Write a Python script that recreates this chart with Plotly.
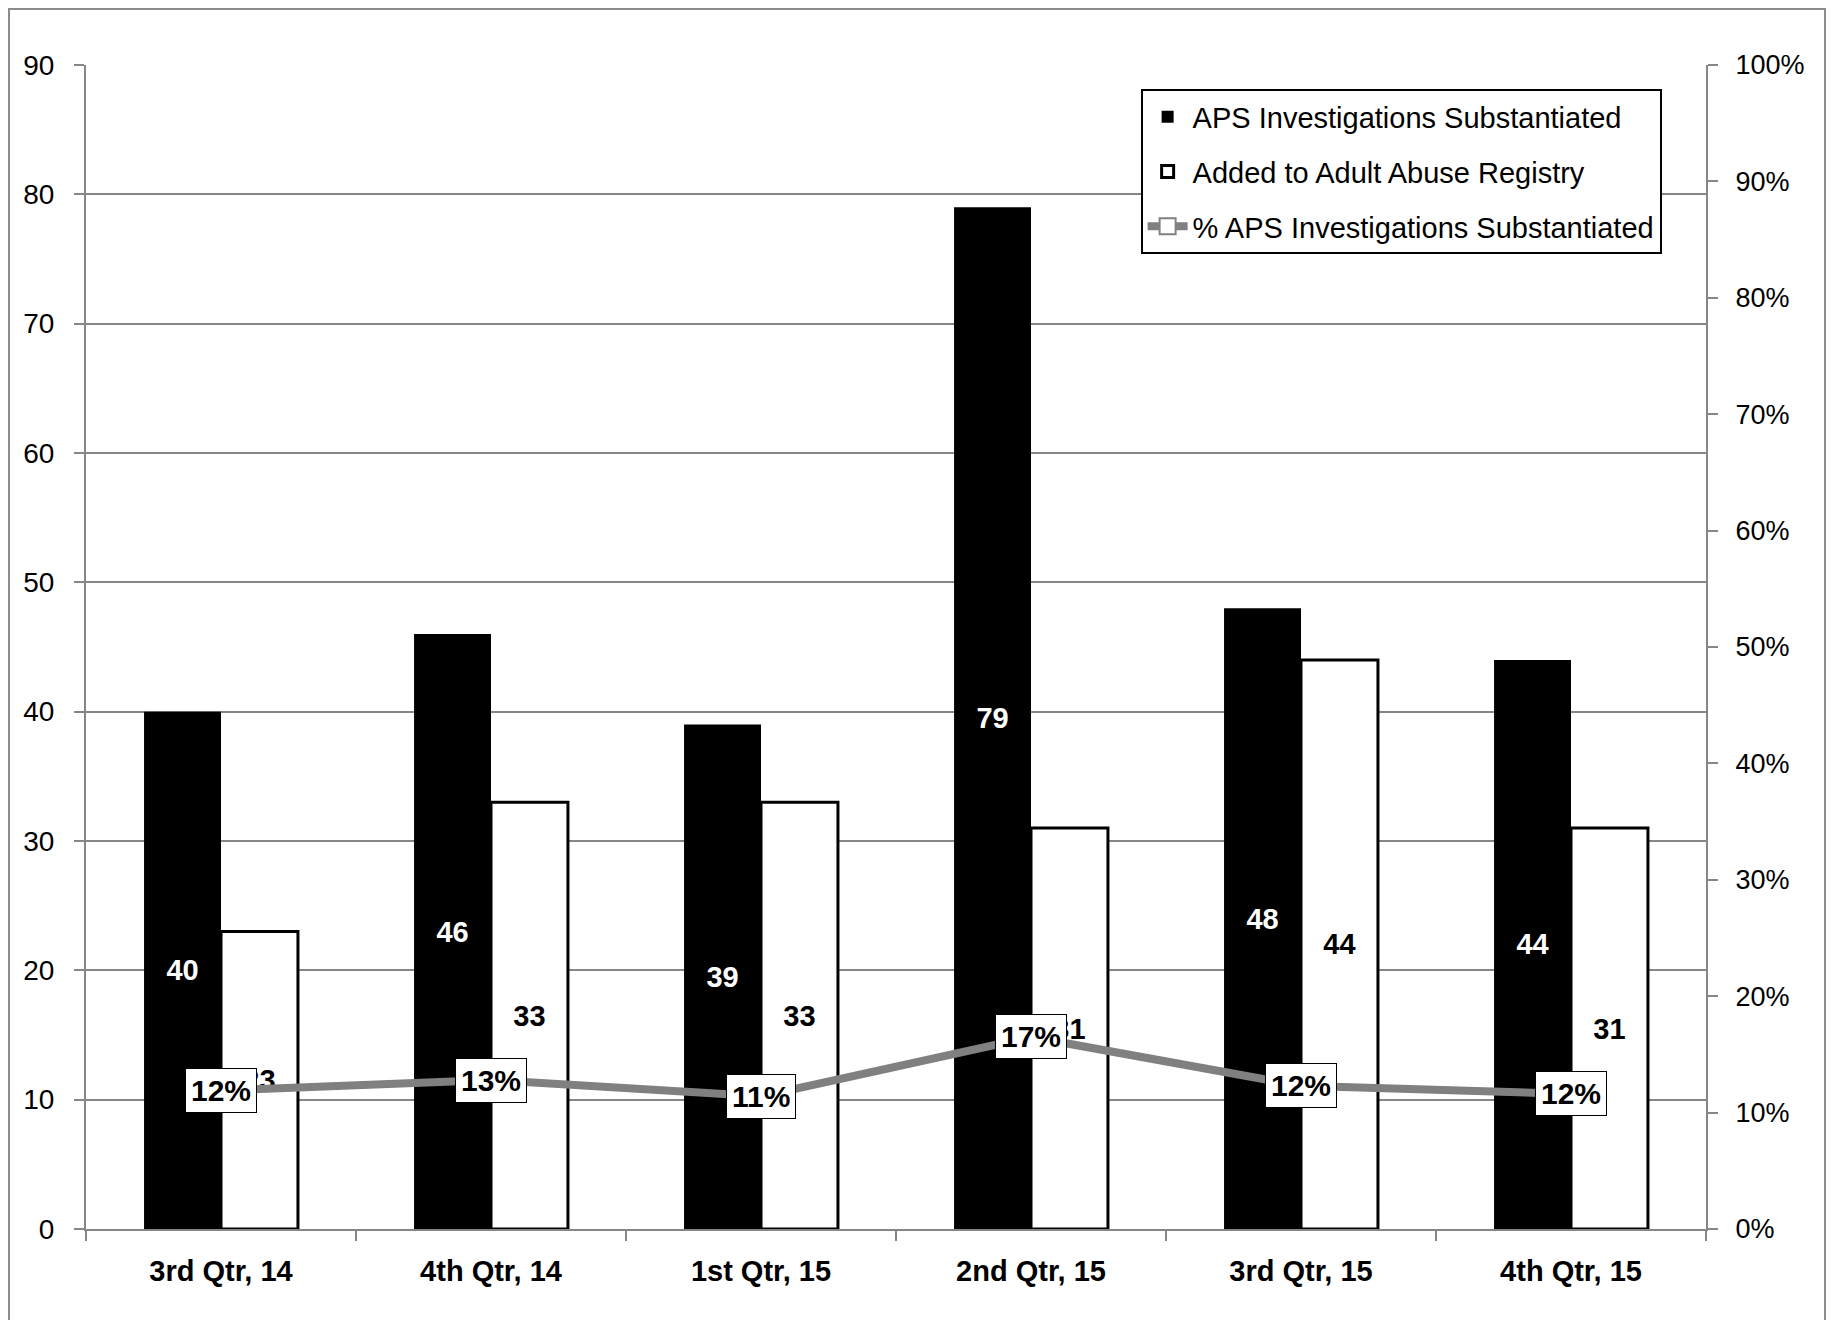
import plotly.graph_objects as go

categories = ["3rd Qtr, 14", "4th Qtr, 14", "1st Qtr, 15", "2nd Qtr, 15", "3rd Qtr, 15", "4th Qtr, 15"]
substantiated = [40, 46, 39, 79, 48, 44]
added_registry = [23, 33, 33, 31, 44, 31]
pct_substantiated = [0.119, 0.128, 0.114, 0.165, 0.123, 0.116]
pct_labels = ["12%", "13%", "11%", "17%", "12%", "12%"]

W, H = 1834, 1320
OFF = 8  # page body margin
L, R, T, B = 86 - OFF, 128 + OFF, 65 - OFF, 91 + OFF
PW, PH = 1620, 1164
FONT = "Liberation Sans, Arial, sans-serif"
GRID = "#868686"

fig = go.Figure()

fig.add_trace(go.Bar(
    x=categories, y=substantiated, name="APS Investigations Substantiated",
    marker=dict(color="black", line=dict(color="black", width=0)),
    text=[str(v) for v in substantiated], textposition="inside",
    insidetextanchor="middle", textangle=0, constraintext="none",
    textfont=dict(color="white", size=29, family=FONT, weight="bold"),
    legendgroup="a", hoverinfo="skip",
))
fig.add_trace(go.Bar(
    x=categories, y=added_registry, name="Added to Adult Abuse Registry",
    marker=dict(color="white", line=dict(color="black", width=3)),
    text=[str(v) for v in added_registry], textposition="inside",
    insidetextanchor="middle", textangle=0, constraintext="none",
    textfont=dict(color="black", size=29, family=FONT, weight="bold"),
    legendgroup="b", hoverinfo="skip",
))
fig.add_trace(go.Scatter(
    x=categories, y=pct_substantiated, name="% APS Investigations Substantiated",
    mode="lines+markers", yaxis="y2",
    line=dict(color="#808080", width=8),
    marker=dict(symbol="square", size=16, color="white", line=dict(color="#808080", width=2)),
    legendgroup="c", hoverinfo="skip",
))

for c, v, lab in zip(categories, pct_substantiated, pct_labels):
    fig.add_annotation(
        x=c, y=v, xref="x", yref="y2", text=lab, showarrow=False,
        font=dict(size=30, family=FONT, color="black", weight="bold"),
        bgcolor="white", bordercolor="black", borderwidth=1, borderpad=5,
    )

# outer chart border (as close to the page edge as the figure allows)
fig.add_shape(type="rect", xref="paper", yref="paper",
              x0=(1 - L) / PW, x1=(1825 - OFF - L) / PW,
              y0=-(B + 20) / PH, y1=1 + (T - 1) / PH,
              line=dict(color="#8c8c8c", width=2), fillcolor="rgba(0,0,0,0)", layer="below")

fig.update_layout(
    width=W, height=H,
    margin=dict(l=L, r=R, t=T, b=B, pad=0),
    paper_bgcolor="white", plot_bgcolor="white",
    font=dict(family=FONT, size=28, color="black"),
    barmode="group", bargap=0.43, bargroupgap=0,
    showlegend=True,
    legend=dict(
        x=0.651, y=0.979, xanchor="left", yanchor="top",
        bgcolor="white", bordercolor="black", borderwidth=2,
        font=dict(size=29, family=FONT, color="black"),
        tracegroupgap=14, traceorder="grouped", itemwidth=40,
    ),
    xaxis=dict(
        type="category", showline=True, linecolor=GRID, linewidth=2,
        ticks="outside", tickson="boundaries", ticklen=10, tickcolor=GRID, tickwidth=2,
        tickfont=dict(size=29, family=FONT, color="black", weight="bold"),
        showgrid=False, ticklabelstandoff=15,
    ),
    yaxis=dict(
        range=[0, 90], dtick=10, showgrid=True, gridcolor=GRID, gridwidth=1.5,
        showline=True, linecolor=GRID, linewidth=2,
        ticks="outside", ticklen=10, tickcolor=GRID, tickwidth=2,
        tickfont=dict(size=28, family=FONT, color="black"), ticklabelstandoff=14,
        zeroline=False,
    ),
    yaxis2=dict(
        range=[0, 1], dtick=0.1, tickformat=".0%", overlaying="y", side="right",
        showgrid=False, showline=True, linecolor=GRID, linewidth=2,
        ticks="outside", ticklen=10, tickcolor=GRID, tickwidth=2,
        tickfont=dict(size=27, family=FONT, color="black"), ticklabelstandoff=12,
        zeroline=False,
    ),
)

fig.write_html("out.html")
